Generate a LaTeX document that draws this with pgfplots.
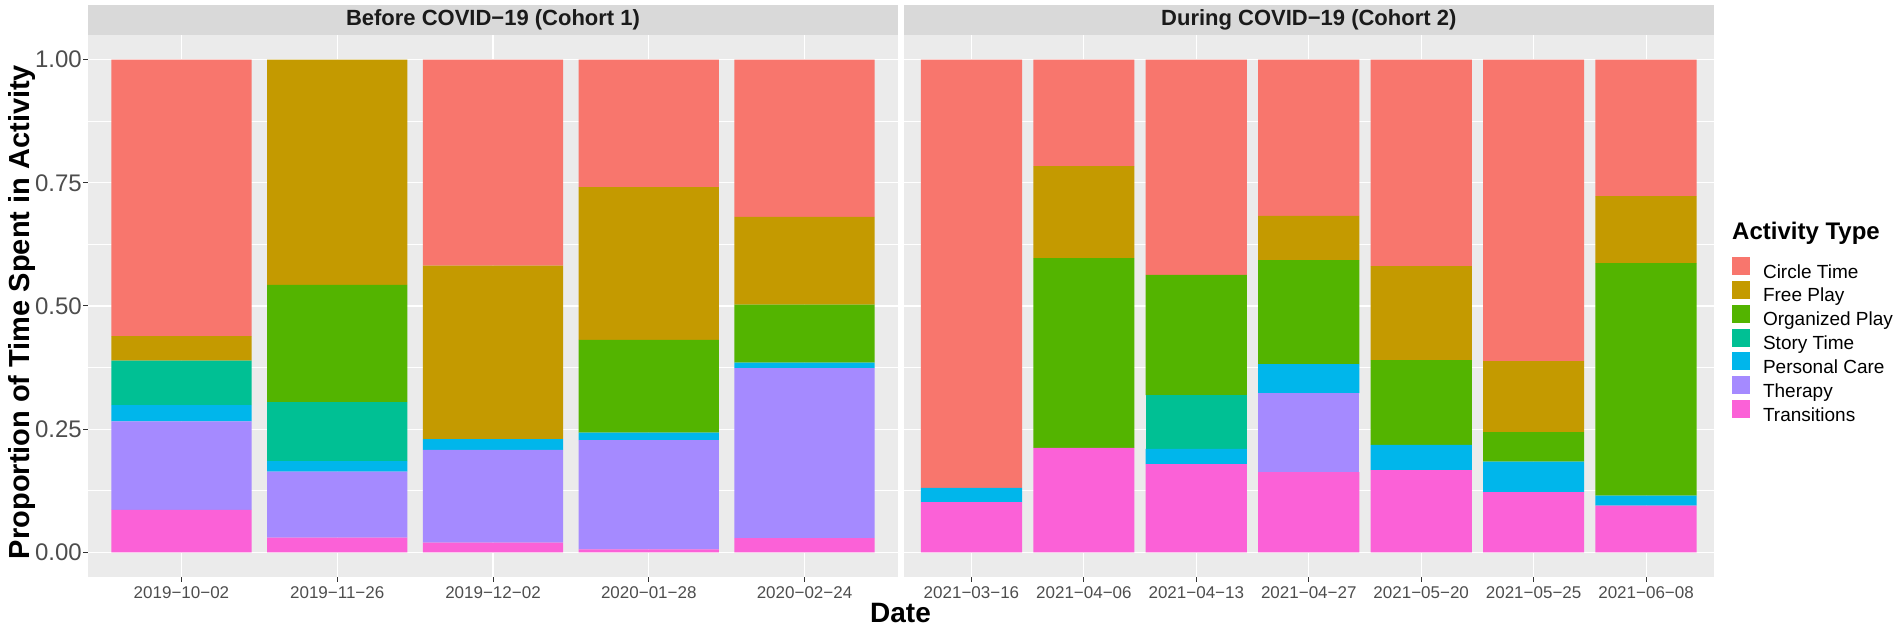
\documentclass[border=0pt]{standalone}
\usepackage{pgfplots}
\pgfplotsset{compat=1.18}
\usepackage{pgfplotstable}
\usepackage{fontspec}
\setmainfont{Liberation Sans}
\definecolor{cCT}{HTML}{F8766D}
\definecolor{cFP}{HTML}{C49A00}
\definecolor{cOP}{HTML}{53B400}
\definecolor{cST}{HTML}{00C094}
\definecolor{cPC}{HTML}{00B6EB}
\definecolor{cTH}{HTML}{A58AFF}
\definecolor{cTR}{HTML}{FB61D7}
\definecolor{panelbg}{HTML}{EBEBEB}
\definecolor{stripbg}{HTML}{D9D9D9}
\definecolor{tickc}{HTML}{333333}
\definecolor{labc}{HTML}{4D4D4D}

\pgfplotstableread{
x TR TH PC ST OP FP CT
0 0.086 0.180 0.033 0.090 0.000 0.050 0.561
1 0.030 0.134 0.021 0.120 0.238 0.457 0.000
2 0.020 0.188 0.022 0.000 0.000 0.352 0.418
3 0.006 0.222 0.015 0.000 0.188 0.310 0.259
4 0.029 0.345 0.011 0.000 0.118 0.178 0.319
}\cohortone
\pgfplotstableread{
x TR TH PC ST OP FP CT
0 0.102 0.000 0.029 0.000 0.000 0.000 0.869
1 0.212 0.000 0.000 0.000 0.385 0.187 0.216
2 0.179 0.000 0.031 0.109 0.244 0.000 0.437
3 0.163 0.160 0.059 0.000 0.211 0.090 0.317
4 0.167 0.000 0.051 0.000 0.172 0.191 0.419
5 0.122 0.000 0.062 0.000 0.060 0.144 0.612
6 0.095 0.000 0.020 0.000 0.472 0.136 0.277
}\cohorttwo

\pgfplotsset{
  facet/.style={
    scale only axis,
    anchor=south west,
    height=542pt,
    ymin=-0.05, ymax=1.05,
    ybar stacked, bar width=0.9,
    axis background/.style={fill=panelbg},
    axis line style={draw=none},
    xmajorgrids, ymajorgrids, yminorgrids,
    major grid style={white, line width=1.1pt},
    minor grid style={white, line width=0.55pt},
    minor y tick num=1,
    minor tick length=0pt,
    tick align=outside,
    major tick length=5pt,
    tick style={color=tickc, line width=1pt},
    xtick pos=left, ytick pos=left,
    xtick=data,
    ytick={0,0.25,0.5,0.75,1},
    xticklabel style={font=\fontsize{17}{20}\selectfont, text=labc, inner sep=0pt, yshift=-4pt},
    yticklabel style={font=\fontsize{24}{28}\selectfont, text=labc, inner sep=1pt},
    every axis plot/.append style={draw=none},
  }
}

\begin{document}
\begin{tikzpicture}
\useasboundingbox (0,0) rectangle (1902pt,628pt);

\begin{axis}[facet, at={(88pt,51pt)}, width=810pt,
  xmin=-0.6, xmax=4.6,
  xticklabels={2019−10−02,2019−11−26,2019−12−02,2020−01−28,2020−02−24},
  yticklabels={0.00,0.25,0.50,0.75,1.00}]
\addplot[fill=cTR] table[x=x,y=TR]{\cohortone};
\addplot[fill=cTH] table[x=x,y=TH]{\cohortone};
\addplot[fill=cPC] table[x=x,y=PC]{\cohortone};
\addplot[fill=cST] table[x=x,y=ST]{\cohortone};
\addplot[fill=cOP] table[x=x,y=OP]{\cohortone};
\addplot[fill=cFP] table[x=x,y=FP]{\cohortone};
\addplot[fill=cCT] table[x=x,y=CT]{\cohortone};
\end{axis}

\begin{axis}[facet, at={(904pt,51pt)}, width=809.5pt,
  xmin=-0.6, xmax=6.6,
  xticklabels={2021−03−16,2021−04−06,2021−04−13,2021−04−27,2021−05−20,2021−05−25,2021−06−08},
  yticklabels={}, ytick style={draw=none},
  reverse legend,
  legend image code/.code={\path[#1,draw=none] (0pt,-3pt) rectangle (18pt,15pt);},
  legend style={at={(axis description cs:1.0229,0.5904)}, anchor=north west,
    draw=none, fill=none, inner sep=0pt, outer sep=0pt,
    row sep=1.2pt, column sep=13pt,
    font=\fontsize{19}{21}\selectfont,
    nodes={inner sep=0pt, anchor=west}},
  legend cell align=left]
\addplot[fill=cTR] table[x=x,y=TR]{\cohorttwo};
\addplot[fill=cTH] table[x=x,y=TH]{\cohorttwo};
\addplot[fill=cPC] table[x=x,y=PC]{\cohorttwo};
\addplot[fill=cST] table[x=x,y=ST]{\cohorttwo};
\addplot[fill=cOP] table[x=x,y=OP]{\cohorttwo};
\addplot[fill=cFP] table[x=x,y=FP]{\cohorttwo};
\addplot[fill=cCT] table[x=x,y=CT]{\cohorttwo};
\legend{Transitions,Therapy,Personal Care,Story Time,Organized Play,Free Play,Circle Time}
\end{axis}

% facet strips
\fill[stripbg] (88pt,593pt) rectangle (898pt,623pt);
\fill[stripbg] (904pt,593pt) rectangle (1713.5pt,623pt);
\node[font=\fontsize{22}{26}\selectfont\bfseries, text={rgb,255:red,26;green,26;blue,26}] at (493pt,608pt) {Before COVID−19 (Cohort 1)};
\node[font=\fontsize{22}{26}\selectfont\bfseries, text={rgb,255:red,26;green,26;blue,26}] at (1308.75pt,608pt) {During COVID−19 (Cohort 2)};

% axis titles
\node[font=\fontsize{29}{32}\selectfont\bfseries, rotate=90, anchor=base] at (29pt,316pt) {Proportion of Time Spent in Activity};
\node[font=\fontsize{28}{32}\selectfont\bfseries] at (900.5pt,15pt) {Date};

% legend title
\node[font=\fontsize{24}{28}\selectfont\bfseries, anchor=west, inner sep=0pt] at (1732pt,395pt) {Activity Type};
\end{tikzpicture}
\end{document}
